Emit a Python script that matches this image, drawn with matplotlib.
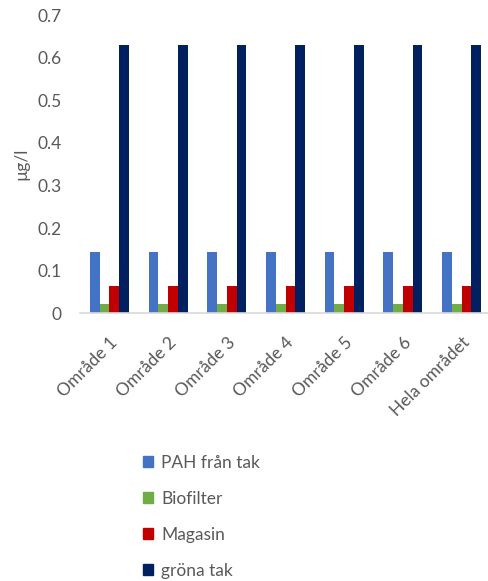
import numpy as np
import matplotlib.pyplot as plt
from matplotlib.patches import Patch

plt.rcParams['font.family'] = ['Lato', 'DejaVu Sans']

# categories and series
omraden = ['Område 1', 'Område 2', 'Område 3', 'Område 4', 'Område 5',
           'Område 6', 'Hela området']
pah_tak = [0.145, 0.145, 0.145, 0.145, 0.145, 0.145, 0.145]
biofilter = [0.021, 0.021, 0.021, 0.021, 0.021, 0.021, 0.021]
magasin = [0.064, 0.064, 0.064, 0.064, 0.064, 0.064, 0.064]
grona_tak = [0.63, 0.63, 0.63, 0.63, 0.63, 0.63, 0.63]

serier = [('PAH från tak', pah_tak, '#4472C4'),
          ('Biofilter', biofilter, '#70AD47'),
          ('Magasin', magasin, '#C00000'),
          ('gröna tak', grona_tak, '#002060')]

fs = 12.5
fig = plt.figure(figsize=(4.89, 5.81), dpi=100)
ax = fig.add_axes([0.1636, 0.4607, 0.8405, 0.5134])

x = np.arange(len(omraden))
w = 0.166
for i, (namn, vals, farg) in enumerate(serier):
    ax.bar(x + (i - 1.5) * w, vals, width=w, color=farg, label=namn)

ax.set_xlim(-0.5, len(omraden) - 0.5)
ax.set_ylim(0, 0.7)
ax.set_yticks(np.arange(0, 0.71, 0.1))
ax.set_yticklabels(['0', '0.1', '0.2', '0.3', '0.4', '0.5', '0.6', '0.7'])
ax.set_xticks(x)
ax.set_xticklabels(omraden, rotation=45, ha='right', va='top',
                   rotation_mode='anchor')
ax.tick_params(axis='both', length=0, labelsize=fs, colors='#595959')
ax.tick_params(axis='y', pad=13)
ax.tick_params(axis='x', pad=15)
ax.set_ylabel('µg/l', fontsize=fs, color='#595959', labelpad=6)

for s in ['top', 'right', 'left']:
    ax.spines[s].set_visible(False)
ax.spines['bottom'].set_color('#D9D9D9')
ax.spines['bottom'].set_linewidth(1.2)

handles = [Patch(color=f, label=n) for n, v, f in serier]
fig.legend(handles=handles, loc='upper left', bbox_to_anchor=(0.292, 0.217),
           frameon=False, fontsize=fs, labelcolor='#595959',
           handlelength=0.6, handleheight=0.6, handletextpad=0.45,
           labelspacing=1.15, borderpad=0, borderaxespad=0)

fig.savefig('out.png', dpi=100)
